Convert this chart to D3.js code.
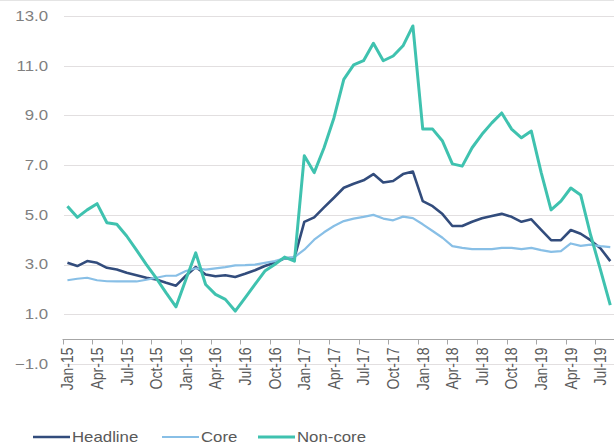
<!DOCTYPE html>
<html>
<head>
<meta charset="utf-8">
<script src="https://cdn.jsdelivr.net/npm/d3@7"></script>
<style>
  html, body { margin: 0; padding: 0; background: #fff; }
  svg { display: block; }
  text { font-family: "Liberation Sans", Arial, sans-serif; }
</style>
</head>
<body>
<svg id="chart" width="614" height="448"></svg>
<script>
// Monthly categories Jan-15 .. Aug-19
const monthNames = ["Jan","Feb","Mar","Apr","May","Jun","Jul","Aug","Sep","Oct","Nov","Dec"];
const months = [];
for (let y = 15; y <= 19; y++) {
  for (let m = 0; m < 12; m++) {
    if (y === 19 && m > 7) break;
    months.push(monthNames[m] + "-" + y);
  }
}

const headline = [
  3.07, 2.94, 3.14, 3.07, 2.87, 2.80, 2.67, 2.57, 2.47, 2.40, 2.27, 2.15,
  2.55, 2.90, 2.60, 2.53, 2.57, 2.50, 2.63, 2.77, 2.94, 3.07, 3.25, 3.27,
  4.72, 4.90, 5.30, 5.69, 6.09, 6.25, 6.39, 6.64, 6.30, 6.36, 6.64, 6.74,
  5.55, 5.35, 5.03, 4.55, 4.55, 4.72, 4.86, 4.95, 5.04, 4.92, 4.72, 4.82,
  4.40, 3.98, 3.98, 4.39, 4.24, 3.98, 3.66, 3.14
];
const core = [
  2.37, 2.43, 2.47, 2.37, 2.33, 2.32, 2.32, 2.32, 2.39, 2.47, 2.55, 2.55,
  2.74, 2.85, 2.80, 2.85, 2.90, 2.97, 2.98, 3.00, 3.07, 3.14, 3.25, 3.30,
  3.60, 4.00, 4.30, 4.55, 4.75, 4.85, 4.92, 5.00, 4.85, 4.78, 4.93, 4.87,
  4.62, 4.35, 4.08, 3.74, 3.67, 3.62, 3.62, 3.62, 3.67, 3.67, 3.62, 3.67,
  3.58, 3.51, 3.54, 3.85, 3.75, 3.80, 3.74, 3.70
];
const nonCore = [
  5.35, 4.90, 5.20, 5.45, 4.68, 4.62, 4.15, 3.58, 3.00, 2.45, 1.86, 1.30,
  2.40, 3.47, 2.20, 1.80, 1.60, 1.13, 1.66, 2.20, 2.74, 3.00, 3.30, 3.14,
  7.38, 6.70, 7.70, 8.90, 10.45, 11.03, 11.20, 11.90, 11.20, 11.39, 11.80, 12.60,
  8.45, 8.45, 7.97, 7.05, 6.96, 7.70, 8.24, 8.70, 9.10, 8.45, 8.10, 8.37,
  6.70, 5.20, 5.55, 6.08, 5.80, 4.20, 2.80, 1.37
];
const yTicks = [-1, 1, 3, 5, 7, 9, 11, 13];

const seriesNames = ["Headline", "Core", "Non-core"];
const seriesColors = ["#324c7c", "#88bfe6", "#3fc2af"];
const seriesWidths = [2.6, 2.2, 3];
const seriesValues = [headline, core, nonCore];

const svg = d3.select("#chart");
const textScaleX = 1.2;
const fontSize = 14;

const x = d3.scaleBand().domain(months).range([62.5, 62.5 + months.length * 9.87]).padding(0);
const y = d3.scaleLinear().domain([-1, 13]).range([364, 16]);

// frame line along the top edge
svg.append("line").attr("x1", 0).attr("x2", 614).attr("y1", 0.5).attr("y2", 0.5)
  .attr("stroke", "#e4e4e4");

// horizontal gridlines
svg.append("g").selectAll("line").data(yTicks).join("line")
  .attr("x1", 64).attr("x2", 614)
  .attr("y1", d => Math.round(y(d)) + 0.5).attr("y2", d => Math.round(y(d)) + 0.5)
  .attr("stroke", "#e2dfe0").attr("stroke-width", 1);

// y tick labels
svg.append("g").selectAll("text").data(yTicks).join("text")
  .attr("transform", d => `translate(48,${y(d)}) scale(${textScaleX},1)`)
  .attr("text-anchor", "end").attr("dy", "0.35em")
  .attr("font-size", fontSize).attr("fill", "#808080")
  .text(d => d3.format(".1f")(d));

// x axis at zero, ticks between every third category
const axisY = Math.round(y(0)) + 0.5;
svg.append("line").attr("x1", 62.5).attr("x2", 614).attr("y1", axisY).attr("y2", axisY)
  .attr("stroke", "#a6a6a6").attr("stroke-width", 1);
const tickMonths = months.filter((m, i) => i % 3 === 0);
svg.append("g").selectAll("line").data(tickMonths).join("line")
  .attr("x1", d => Math.round(x(d)) + 0.5).attr("x2", d => Math.round(x(d)) + 0.5)
  .attr("y1", axisY).attr("y2", axisY + 5)
  .attr("stroke", "#a6a6a6");
svg.append("g").selectAll("text").data(tickMonths).join("text")
  .attr("transform", d => `translate(${x(d) + x.bandwidth() / 2},${axisY + 8}) scale(${textScaleX},1) rotate(-90)`)
  .attr("text-anchor", "end").attr("dy", "0.35em")
  .attr("font-size", fontSize).attr("fill", "#595959")
  .text(d => d);

// series lines
const line = d3.line()
  .x((d, i) => x(months[i]) + x.bandwidth() / 2)
  .y(d => y(d));
seriesValues.forEach((vals, k) => {
  svg.append("path").datum(vals)
    .attr("fill", "none")
    .attr("stroke", seriesColors[k])
    .attr("stroke-width", seriesWidths[k])
    .attr("stroke-linejoin", "round")
    .attr("d", line);
});

// legend
const legendX = [33, 162, 258];
const legend = svg.append("g");
seriesNames.forEach((name, k) => {
  legend.append("line")
    .attr("x1", legendX[k]).attr("x2", legendX[k] + 37)
    .attr("y1", 437).attr("y2", 437)
    .attr("stroke", seriesColors[k]).attr("stroke-width", seriesWidths[k]);
  legend.append("text")
    .attr("transform", `translate(${legendX[k] + 39},437) scale(${textScaleX},1)`)
    .attr("dy", "0.35em")
    .attr("font-size", fontSize).attr("fill", "#595959")
    .text(name);
});
</script>
</body>
</html>
